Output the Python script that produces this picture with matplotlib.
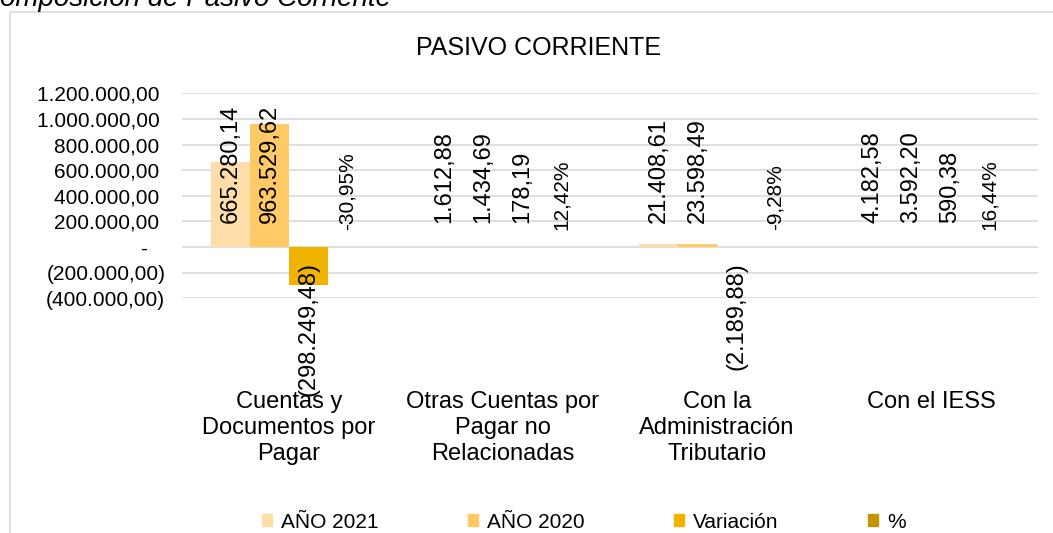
import matplotlib
matplotlib.use("Agg")
import matplotlib.pyplot as plt
import numpy as np
from matplotlib.patches import Rectangle

# --- Data ---
categories = [
    "Cuentas y\nDocumentos por\nPagar",
    "Otras Cuentas por\nPagar no\nRelacionadas",
    "Con la\nAdministración\nTributario",
    "Con el IESS",
]
anio_2021 = [665280.14, 1612.88, 21408.61, 4182.58]
anio_2020 = [963529.62, 1434.69, 23598.49, 3592.20]
variacion = [-298249.48, 178.19, -2189.88, 590.38]
porcentaje = [-0.3095, 0.1242, -0.0928, 0.1644]

series_names = ["AÑO 2021", "AÑO 2020", "Variación", "%"]
series_colors = ["#FFDDA8", "#FFC965", "#F0B400", "#C49300"]

y_ticks = [-400000, -200000, 0, 200000, 400000, 600000, 800000, 1000000, 1200000]

FONT = "Liberation Sans"
plt.rcParams["font.family"] = [FONT, "DejaVu Sans"]


def fmt_num(v):
    """Spanish accounting style: 1.234,56 and (1.234,56) for negatives."""
    s = f"{abs(v):,.2f}".replace(",", "X").replace(".", ",").replace("X", ".")
    return f"({s})" if v < 0 else s


def fmt_pct(v):
    return f"{v * 100:.2f}".replace(".", ",") + "%"


def fmt_tick(v):
    if v == 0:
        return "-   "
    if v < 0:
        return fmt_num(v)
    return fmt_num(v) + " "


W, H = 1053, 533
fig = plt.figure(figsize=(W / 100, H / 100), dpi=100)

# chart frame (only left and top edges visible in the crop)
frame = Rectangle((10 / W, -0.1), 1.2, 1 - 12 / H + 0.1, transform=fig.transFigure,
                  fill=False, edgecolor="#d9d9d9", linewidth=1.2, zorder=0)
fig.add_artist(frame)

# caption above the chart, cut off at the top edge (as in the original)
fig.text(-20 / W, 1 - 6 / H, "Composición de Pasivo Corriente", fontsize=20,
         style="italic", ha="left", va="baseline", color="black")

ax = fig.add_axes([182 / W, 1 - 298.3 / H, (1038 - 182) / W, (298.3 - 93.3) / H])

x = np.arange(len(categories))
width = 39 / 214
all_series = [anio_2021, anio_2020, variacion, porcentaje]

for i, (vals, name, col) in enumerate(zip(all_series, series_names, series_colors)):
    pos = x + (i - 1.5) * width
    ax.bar(pos, vals, width=width, color=col, label=name, zorder=2)
    for px, v in zip(pos, vals):
        if name == "%":
            ax.annotate(fmt_pct(v), xy=(px, 0), xytext=(0, 17), textcoords="offset pixels",
                        rotation=90, ha="center", va="bottom", fontsize=15)
        elif v >= 0:
            ax.annotate(fmt_num(v), xy=(px, 0), xytext=(0, 24), textcoords="offset pixels",
                        rotation=90, ha="center", va="bottom", fontsize=17)
        else:
            ax.annotate(fmt_num(v), xy=(px, 0), xytext=(0, -15), textcoords="offset pixels",
                        rotation=90, ha="center", va="top", fontsize=17)

ax.set_xlim(-0.5, len(categories) - 0.5)
ax.set_ylim(-400000, 1200000)
ax.set_yticks(y_ticks)
ax.set_yticklabels([fmt_tick(v) for v in y_ticks], fontsize=15)
ax.set_xticks(x)
ax.set_xticklabels(categories, fontsize=17, linespacing=1.22)
ax.tick_params(axis="y", length=0, pad=12)
ax.tick_params(axis="x", length=0, pad=67)
ax.grid(axis="y", color="#d9d9d9", linewidth=1.2, zorder=0)
ax.set_axisbelow(True)
for sp in ax.spines.values():
    sp.set_visible(False)

fig.text(539 / W, 1 - 48 / H, "PASIVO CORRIENTE", fontsize=18, ha="center", va="center")

leg_handles = [Rectangle((0, 0), 1, 1, color=c) for c in series_colors]
fig.legend(leg_handles, series_names, loc="center", bbox_to_anchor=(584 / W, 1 - 522 / H),
           ncol=4, frameon=False, fontsize=15, handlelength=0.45, handleheight=0.45,
           handletextpad=0.45, columnspacing=4.3)

fig.savefig("out.png", dpi=100)
